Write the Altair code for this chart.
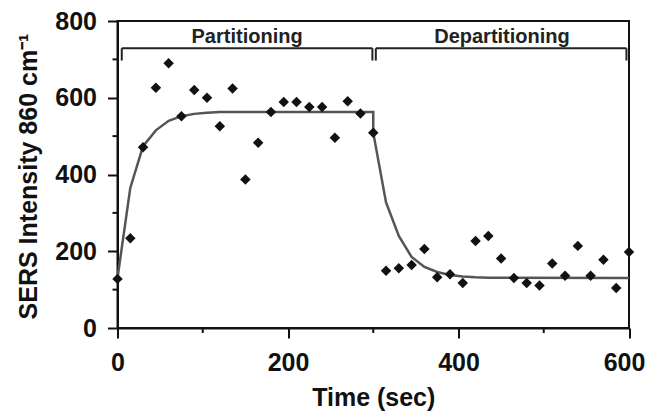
import altair as alt
import pandas as pd

# measured points (Time in s, SERS intensity)
part_t = list(range(0, 301, 15))
part_y = [128, 234, 471, 626, 690, 552, 620, 600, 526, 624, 387, 483, 563,
          589, 589, 576, 576, 496, 591, 559, 509]
depart_t = list(range(315, 601, 15))
depart_y = [149, 156, 164, 206, 132, 140, 117, 227, 240, 181, 130, 117, 111,
            168, 136, 214, 136, 178, 104, 198]

# fitted curve
curve_t = [0, 15, 30, 45, 60, 75, 90, 105, 120, 300,
           300, 315, 330, 345, 360, 375, 390, 405, 420, 435, 600]
curve_y = [130, 365, 474, 515, 540, 552, 558, 561, 563, 563,
           509, 327, 240, 185, 159, 146, 138, 134, 132, 131, 130]

# phase brackets
phase_names = ["Partitioning", "Departitioning"]
phase_start = [5, 303]
phase_end = [299, 597]
phase_label_x = [152, 451]
bracket_top = 729
bracket_tip = 697
label_y = 742

x_major = [0, 200, 400, 600]
x_minor = [100, 300, 500]
y_major = [0, 200, 400, 600, 800]
y_minor = [100, 300, 500, 700]

FONT = "Liberation Sans"
W, H = 511.5, 307

pts = pd.DataFrame({"t": part_t + depart_t, "v": part_y + depart_y})
curve = pd.DataFrame({"t": curve_t, "v": curve_y, "i": list(range(len(curve_t)))})

segs = []
for s, e in zip(phase_start, phase_end):
    segs.append({"x": s, "x2": e, "y": bracket_top, "y2": bracket_top})
    segs.append({"x": s, "x2": s, "y": bracket_top, "y2": bracket_tip})
    segs.append({"x": e, "x2": e, "y": bracket_top, "y2": bracket_tip})
segs = pd.DataFrame(segs)
labels = pd.DataFrame({"t": phase_label_x, "v": [label_y] * 2, "name": phase_names})

xscale = alt.Scale(domain=[0, 600], nice=False, zero=False)
yscale = alt.Scale(domain=[0, 800], nice=False)

xax = alt.Axis(values=x_major, tickSize=10, tickWidth=2, tickColor="#111",
               domainColor="#111", domainWidth=2, grid=False,
               labelFont=FONT, labelFontSize=25, labelFontWeight="bold",
               labelColor="#111", labelPadding=12, labelFlush=False,
               labelOffset={"condition": {"test": "datum.value == 600", "value": -5},
                            "value": 0},
               title="Time (sec)", titleFont=FONT, titleFontSize=25,
               titleFontWeight="bold", titleColor="#111",
               titleY=77, titleBaseline="alphabetic")
yax = alt.Axis(values=y_major, tickSize=10, tickWidth=2, tickColor="#111",
               domainColor="#111", domainWidth=2, grid=False,
               labelFont=FONT, labelFontSize=25, labelFontWeight="bold",
               labelColor="#111", labelPadding=11, labelFlush=False,
               title="SERS Intensity 860 cm\u207b\u00b9", titleFont=FONT,
               titleFontSize=25, titleFontWeight="bold", titleColor="#111",
               titleX=-81, titleY=155, titleBaseline="alphabetic")

base_pts = alt.Chart(pts).mark_point(shape="diamond", filled=True, size=110,
                                     color="#111", opacity=1).encode(
    x=alt.X("t:Q", scale=xscale, axis=xax),
    y=alt.Y("v:Q", scale=yscale, axis=yax),
)

line = alt.Chart(curve).mark_line(color="#555", strokeWidth=2.5).encode(
    x=alt.X("t:Q", scale=xscale),
    y=alt.Y("v:Q", scale=yscale),
    order="i:Q",
)

brackets = alt.Chart(segs).mark_rule(color="#222", strokeWidth=2).encode(
    x=alt.X("x:Q", scale=xscale), x2="x2:Q",
    y=alt.Y("y:Q", scale=yscale), y2="y2:Q",
)

texts = alt.Chart(labels).mark_text(font=FONT, fontSize=20, fontWeight="bold",
                                    color="#222", baseline="alphabetic",
                                    align="center").encode(
    x=alt.X("t:Q", scale=xscale),
    y=alt.Y("v:Q", scale=yscale),
    text="name:N",
)

xminor = alt.Chart(pd.DataFrame({"t": x_minor})).mark_rule(
    color="#111", strokeWidth=2).encode(
    x=alt.X("t:Q", scale=xscale), y=alt.value(H), y2=alt.value(H + 5))

yminor = alt.Chart(pd.DataFrame({"v": y_minor})).mark_rule(
    color="#111", strokeWidth=2).encode(
    y=alt.Y("v:Q", scale=yscale), x=alt.value(0), x2=alt.value(-5))

chart = alt.layer(line, base_pts, brackets, texts, xminor, yminor).properties(
    width=W, height=H,
    autosize=alt.AutoSizeParams(type="none"),
    padding={"left": 109.5, "top": 13, "right": 17, "bottom": 83},
    background="white",
).configure_view(stroke="#111", strokeWidth=2)

chart.save("out.html", embed_options={"renderer": "svg", "actions": False})
